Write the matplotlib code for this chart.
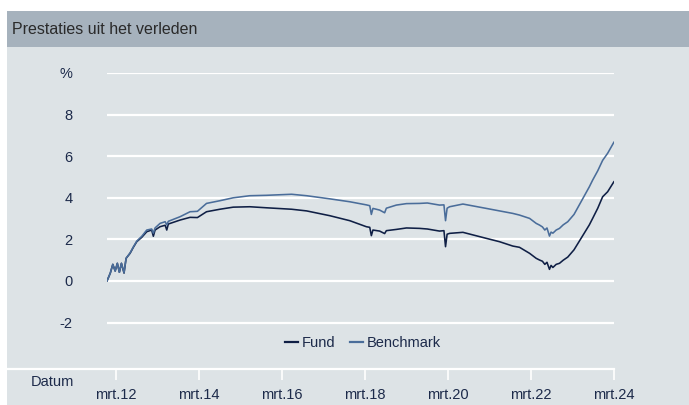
import matplotlib
matplotlib.use("Agg")
import matplotlib.pyplot as plt
from matplotlib.lines import Line2D
from matplotlib.patches import Rectangle
import pandas as pd

plt.rcParams['font.family'] = ['Liberation Sans', 'DejaVu Sans']

title = "Prestaties uit het verleden"
x_label = "Datum"
series_names = ["Fund", "Benchmark"]

dates = [
    "2011-12-12", "2012-01-10", "2012-02-01", "2012-02-22", "2012-03-12", "2012-03-30",
    "2012-04-17", "2012-05-10", "2012-05-28", "2012-07-02", "2012-07-31", "2012-08-30",
    "2012-10-13", "2012-11-26", "2013-01-08", "2013-01-23", "2013-02-07", "2013-03-23",
    "2013-05-07", "2013-05-21", "2013-06-04", "2013-09-15", "2013-12-12", "2014-02-15",
    "2014-05-06", "2014-09-01", "2014-12-27", "2015-05-22", "2015-10-16", "2016-05-24",
    "2016-10-03", "2017-04-25", "2017-10-18", "2018-03-13", "2018-04-12", "2018-04-26",
    "2018-05-10", "2018-07-08", "2018-08-21", "2018-09-05", "2018-12-02", "2019-03-01",
    "2019-06-24", "2019-09-01", "2019-12-17", "2020-01-25", "2020-02-08", "2020-02-22",
    "2020-03-15", "2020-07-10", "2021-02-01", "2021-05-28", "2021-09-22", "2021-11-20",
    "2022-02-17", "2022-04-16", "2022-05-15", "2022-06-10", "2022-07-01", "2022-07-20",
    "2022-08-11", "2022-08-25", "2022-09-10", "2022-10-09", "2022-11-07", "2022-12-10",
    "2023-01-19", "2023-03-15", "2023-05-16", "2023-07-28", "2023-08-26", "2023-10-10",
    "2023-11-22", "2024-01-05", "2024-02-29",
]

fund = [
    0.00, 0.38, 0.80, 0.48, 0.85, 0.42,
    0.85, 0.38, 1.09, 1.33, 1.62, 1.89,
    2.10, 2.37, 2.45, 2.15, 2.45, 2.61,
    2.68, 2.45, 2.74, 2.93, 3.06, 3.05,
    3.33, 3.45, 3.55, 3.57, 3.52, 3.45,
    3.37, 3.14, 2.90, 2.61, 2.58, 2.18,
    2.45, 2.40, 2.28, 2.42, 2.48, 2.55,
    2.53, 2.50, 2.40, 2.42, 1.65, 2.25,
    2.29, 2.34, 2.05, 1.89, 1.68, 1.62,
    1.33, 1.09, 1.01, 0.95, 0.80, 0.90,
    0.56, 0.75, 0.65, 0.80, 0.85, 1.00,
    1.15, 1.50, 2.05, 2.70, 3.01, 3.50,
    4.05, 4.29, 4.77,
]

benchmark = [
    0.00, 0.38, 0.80, 0.48, 0.85, 0.42,
    0.85, 0.40, 1.09, 1.35, 1.64, 1.92,
    2.15, 2.45, 2.50, 2.30, 2.55, 2.77,
    2.85, 2.70, 2.87, 3.09, 3.33, 3.35,
    3.73, 3.86, 4.00, 4.10, 4.12, 4.17,
    4.10, 3.95, 3.81, 3.66, 3.62, 3.20,
    3.49, 3.41, 3.28, 3.50, 3.65, 3.72,
    3.73, 3.75, 3.65, 3.66, 2.90, 3.50,
    3.57, 3.70, 3.49, 3.37, 3.25, 3.17,
    3.01, 2.77, 2.69, 2.60, 2.45, 2.55,
    2.16, 2.35, 2.30, 2.45, 2.53, 2.70,
    2.85, 3.20, 3.81, 4.53, 4.85, 5.30,
    5.80, 6.14, 6.67,
]

y_ticks = [-2, 0, 2, 4, 6, 8, 10]
y_tick_labels = ["-2", "0", "2", "4", "6", "8", "%"]
x_tick_dates = ["2012-03-01", "2014-03-01", "2016-03-01", "2018-03-01",
                "2020-03-01", "2022-03-01", "2024-03-01"]
x_tick_labels = ["mrt.12", "mrt.14", "mrt.16", "mrt.18", "mrt.20", "mrt.22", "mrt.24"]

W, H = 689, 405
fig = plt.figure(figsize=(W / 100, H / 100), dpi=100)
fig.patch.set_facecolor("white")

def fx(px):
    return px / W

def fy(py):
    return 1 - py / H

header_col = "#a6b2bd"
body_col = "#dde3e6"
text_col = "#1c2a4a"
fund_col = "#0f1f45"
bench_col = "#4a6d9a"

fig.add_artist(Rectangle((fx(7), fy(405)), fx(689) - fx(7), fy(46.5) - fy(405),
                         transform=fig.transFigure, facecolor=body_col, edgecolor="none", zorder=0))
fig.add_artist(Rectangle((fx(7), fy(46.5)), fx(689) - fx(7), fy(11) - fy(46.5),
                         transform=fig.transFigure, facecolor=header_col, edgecolor="none", zorder=0))
fig.text(fx(12.5), fy(29), title, fontsize=11.5, color="#2a2a2a", va="center", ha="left")

ax_l, ax_r, ax_t, ax_b = 107, 614, 73, 369
ax = fig.add_axes([fx(ax_l), fy(ax_b), fx(ax_r) - fx(ax_l), fy(ax_t) - fy(ax_b)])
ax.set_facecolor("none")
ymax = 10
ymin = 10 - (ax_b - ax_t) / 20.8
ax.set_ylim(ymin, ymax)

d = pd.to_datetime(dates)
ax.plot(d, fund, color=fund_col, lw=1.15, label=series_names[0], zorder=3)
ax.plot(d, benchmark, color=bench_col, lw=1.15, label=series_names[1], zorder=3)
ax.set_xlim(pd.Timestamp("2011-12-12"), pd.Timestamp("2024-03-01"))

for yv in y_ticks:
    ax.axhline(yv, color="white", lw=1.6, zorder=1)

for s in ax.spines.values():
    s.set_visible(False)

ax.set_yticks(y_ticks)
ax.set_yticklabels(y_tick_labels)
ax.tick_params(axis="y", length=0, pad=25, labelsize=10.5, labelcolor=text_col)
ax.set_xticks(pd.to_datetime(x_tick_dates))
ax.set_xticklabels(x_tick_labels)
ax.tick_params(axis="x", length=8, width=1.2, color="white", direction="out",
               pad=6, labelsize=10.5, labelcolor=text_col)

# bottom axis line spanning to the left panel edge
fig.add_artist(Line2D([fx(7), fx(ax_r)], [fy(ax_b), fy(ax_b)], color="white", lw=1.6,
                      transform=fig.transFigure, zorder=2))
fig.text(fx(52), fy(381.5), x_label, fontsize=10.5, color=text_col, ha="center", va="center")

handles = [Line2D([0], [0], color=fund_col, lw=1.6), Line2D([0], [0], color=bench_col, lw=1.6)]
fig.legend(handles, series_names, loc="center", bbox_to_anchor=(fx(363), fy(343)), ncol=2,
           frameon=False, fontsize=10.5, handlelength=0.9, handletextpad=0.25, columnspacing=1.0,
           labelcolor=text_col)

fig.savefig("out.png", dpi=100)
